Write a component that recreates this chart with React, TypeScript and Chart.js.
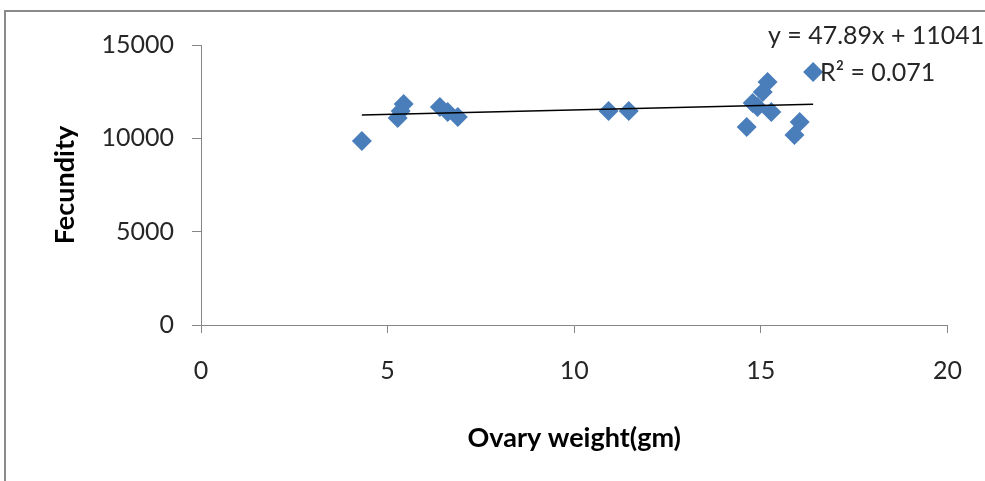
import React, { useEffect, useRef } from "react";
import { Chart, registerables } from "chart.js";

Chart.register(...registerables);

// Ovary weight (gm) and fecundity
const ovaryWeight = [4.31, 5.27, 5.35, 5.43, 6.4, 6.61, 6.88, 10.92, 11.46, 14.62, 14.78, 14.91, 15.05, 15.18, 15.28, 15.9, 16.04, 16.4];
const fecundity = [9860, 11090, 11460, 11840, 11680, 11410, 11140, 11460, 11460, 10610, 11890, 11680, 12480, 13020, 11410, 10180, 10880, 13550];

// Linear trendline as printed on the chart
const trendSlope = 47.89;
const trendIntercept = 11041;
const trendX = [4.31, 16.4];
const equationText = "y = 47.89x + 11041";
const r2Text = "R\u00B2 = 0.071";

const xTicks = [0, 5, 10, 15, 20];
const yTicks = [0, 5000, 10000, 15000];

const FONT = "Lato, 'Open Sans', sans-serif";
const AXIS_COLOR = "#868686";
const TEXT_COLOR = "#262626";

const annotationPlugin = {
  id: "trendAnnotation",
  afterDraw(chart: any) {
    const ctx = chart.ctx;
    ctx.save();
    ctx.font = `25px ${FONT}`;
    ctx.fillStyle = TEXT_COLOR;
    ctx.textAlign = "left";
    ctx.textBaseline = "middle";
    ctx.fillText(equationText, 768, 36);
    ctx.fillText(r2Text, 820, 73);
    ctx.restore();
  },
};

export default function App() {
  const canvasRef = useRef<HTMLCanvasElement | null>(null);

  useEffect(() => {
    const canvas = canvasRef.current;
    if (!canvas) return;
    const points = ovaryWeight.map((x, i) => ({ x, y: fecundity[i] }));
    const trend = trendX.map((x) => ({ x, y: trendSlope * x + trendIntercept }));
    const chart = new Chart(canvas, {
      type: "scatter",
      data: {
        datasets: [
          {
            type: "line",
            label: "Linear",
            data: trend,
            borderColor: "#000000",
            borderWidth: 1.5,
            pointRadius: 0,
            fill: false,
          } as any,
          {
            label: "Fecundity",
            data: points,
            pointStyle: "rectRot",
            pointRadius: 10,
            backgroundColor: "#4a7ebb",
            borderColor: "#4a7ebb",
            borderWidth: 0,
          },
        ],
      },
      options: {
        animation: false,
        responsive: false,
        maintainAspectRatio: false,
        layout: { padding: { left: 0, right: 37, top: 45, bottom: 0 } },
        plugins: { legend: { display: false }, tooltip: { enabled: false } },
        scales: {
          x: {
            type: "linear",
            min: 0,
            max: 20,
            afterBuildTicks: (scale: any) => {
              scale.ticks = xTicks.map((v) => ({ value: v }));
            },
            afterFit: (scale: any) => {
              scale.height = 156;
            },
            ticks: {
              font: { family: FONT, size: 25 },
              color: TEXT_COLOR,
              padding: 23,
              callback: (v: any) => String(v),
            },
            grid: { drawOnChartArea: false, drawTicks: true, tickLength: 8, color: AXIS_COLOR },
            border: { display: true, color: AXIS_COLOR, width: 1 },
            title: {
              display: true,
              text: "Ovary weight(gm)",
              font: { family: FONT, size: 27, weight: "bold" },
              color: "#000000",
              padding: { top: 0, bottom: 27 },
            },
          },
          y: {
            type: "linear",
            min: 0,
            max: 15000,
            afterBuildTicks: (scale: any) => {
              scale.ticks = yTicks.map((v) => ({ value: v }));
            },
            afterFit: (scale: any) => {
              scale.width = 201;
            },
            ticks: {
              font: { family: FONT, size: 25 },
              color: TEXT_COLOR,
              padding: 18,
              callback: (v: any) => String(v),
            },
            grid: { drawOnChartArea: false, drawTicks: true, tickLength: 9, color: AXIS_COLOR },
            border: { display: true, color: AXIS_COLOR, width: 1 },
            title: {
              display: true,
              text: "Fecundity",
              font: { family: FONT, size: 27, weight: "bold" },
              color: "#000000",
              padding: { top: 49, bottom: 0 },
            },
          },
        },
      },
      plugins: [annotationPlugin],
    });
    return () => chart.destroy();
  }, []);

  return (
    <div style={{ position: "absolute", left: 0, top: 0, width: 985, height: 481, background: "#ffffff", overflow: "hidden" }}>
      <div
        style={{
          position: "absolute",
          left: 4,
          top: 10,
          width: 990,
          height: 480,
          borderTop: "2px solid #8a8a8a",
          borderLeft: "2px solid #8a8a8a",
        }}
      />
      <canvas ref={canvasRef} width={985} height={481} style={{ position: "absolute", left: 0, top: 0, display: "block" }} />
    </div>
  );
}
